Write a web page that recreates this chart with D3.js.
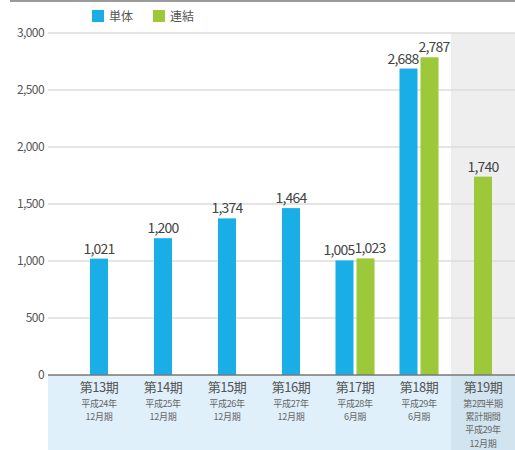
<!DOCTYPE html>
<html><head><meta charset="utf-8">
<script src="https://cdn.jsdelivr.net/npm/d3@7/dist/d3.min.js"></script>
<style>
html,body{margin:0;padding:0;background:#fff;}
svg{display:block;font-family:"Noto Sans CJK JP","Noto Sans",sans-serif;}
</style></head><body>
<svg id="c" width="515" height="450"></svg>
<script>
const categories = ["第13期","第14期","第15期","第16期","第17期","第18期","第19期"];
const subLabels = [
  ["平成24年","12月期"],
  ["平成25年","12月期"],
  ["平成26年","12月期"],
  ["平成27年","12月期"],
  ["平成28年","6月期"],
  ["平成29年","6月期"],
  ["第2四半期","累計期間","平成29年","12月期"]
];
const tanbetsu = [1021, 1200, 1374, 1464, 1005, 2688, null];
const renketsu = [null, null, null, null, 1023, 2787, 1740];
const seriesNames = ["単体","連結"];
const yTicks = [0, 500, 1000, 1500, 2000, 2500, 3000];
const colors = ["#19aee6", "#9cc83a"];

const svg = d3.select("#c");
const W = 515, H = 450;
const x = d3.scaleBand().domain(categories).range([67, 515]);
const y = d3.scaleLinear().domain([0, 3000]).range([375, 33]);
const fmt = d3.format(",");
const barW = 18, gap = 3;

// top gray rule
svg.append("rect").attr("x", 10).attr("y", 0).attr("width", W - 10).attr("height", 2).attr("fill", "#9a9a9a");

// last column shading
const lastX = x(categories[6]);
svg.append("rect").attr("x", lastX).attr("y", y(3000)).attr("width", W - lastX).attr("height", y(0) - y(3000)).attr("fill", "#eeeeee");

// bottom band
svg.append("rect").attr("x", 48).attr("y", y(0)).attr("width", W - 48).attr("height", H - y(0)).attr("fill", "#dff0fa");
svg.append("rect").attr("x", lastX).attr("y", y(0)).attr("width", W - lastX).attr("height", H - y(0)).attr("fill", "#d2e4ef");

// gridlines
svg.append("g").selectAll("line").data(yTicks.filter(d => d > 0)).join("line")
  .attr("x1", 48).attr("x2", W).attr("y1", d => y(d)).attr("y2", d => y(d))
  .attr("stroke", "#dddddd").attr("stroke-width", 1.5);

// y tick labels
svg.append("g").selectAll("text").data(yTicks).join("text")
  .attr("x", 44).attr("y", d => y(d) + 4).attr("text-anchor", "end")
  .attr("font-size", 12).attr("fill", "#555").attr("letter-spacing", -0.6)
  .text(d => fmt(d));

// bars
const bars = [];
categories.forEach((c, i) => {
  const cx = x(c) + x.bandwidth() / 2;
  const a = tanbetsu[i], b = renketsu[i];
  if (a != null && b != null) {
    bars.push({v: a, s: 0, x0: cx - gap / 2 - barW, pair: true});
    bars.push({v: b, s: 1, x0: cx + gap / 2, pair: true});
  } else if (a != null) {
    bars.push({v: a, s: 0, x0: cx - barW / 2, pair: false});
  } else if (b != null) {
    bars.push({v: b, s: 1, x0: cx - barW / 2, pair: false});
  }
});
svg.append("g").selectAll("rect").data(bars).join("rect")
  .attr("x", d => d.x0).attr("y", d => y(d.v)).attr("width", barW)
  .attr("height", d => y(0) - y(d.v)).attr("fill", d => colors[d.s]);

svg.append("g").selectAll("text").data(bars).join("text")
  .attr("x", d => !d.pair ? d.x0 + barW / 2 : (d.s === 0 ? d.x0 + barW + 1 : d.x0 - 2))
  .attr("text-anchor", d => !d.pair ? "middle" : (d.s === 0 ? "end" : "start"))
  .attr("y", d => y(d.v) - 5)
  .attr("font-size", 14).attr("fill", "#444").attr("letter-spacing", -0.8)
  .text(d => fmt(d.v));

// baseline
svg.append("line").attr("x1", 48).attr("x2", W).attr("y1", y(0)).attr("y2", y(0))
  .attr("stroke", "#777").attr("stroke-width", 1.5);

// x labels
const xl = svg.append("g");
categories.forEach((c, i) => {
  const cx = x(c) + x.bandwidth() / 2;
  xl.append("text").attr("x", cx).attr("y", 392).attr("text-anchor", "middle")
    .attr("font-size", 13).attr("fill", "#555").attr("letter-spacing", -0.5).text(c);
  subLabels[i].forEach((s, j) => {
    xl.append("text").attr("x", cx).attr("y", 406.8 + j * 13.3).attr("text-anchor", "middle")
      .attr("font-size", 9).attr("fill", "#666").attr("letter-spacing", -0.3).text(s);
  });
});

// legend
const lg = svg.append("g");
seriesNames.forEach((n, i) => {
  const lx = 92 + i * 61;
  lg.append("rect").attr("x", lx).attr("y", 10).attr("width", 12).attr("height", 12).attr("fill", colors[i]);
  lg.append("text").attr("x", lx + 17).attr("y", 21).attr("font-size", 12).attr("fill", "#555").text(n);
});
</script>
</body></html>
